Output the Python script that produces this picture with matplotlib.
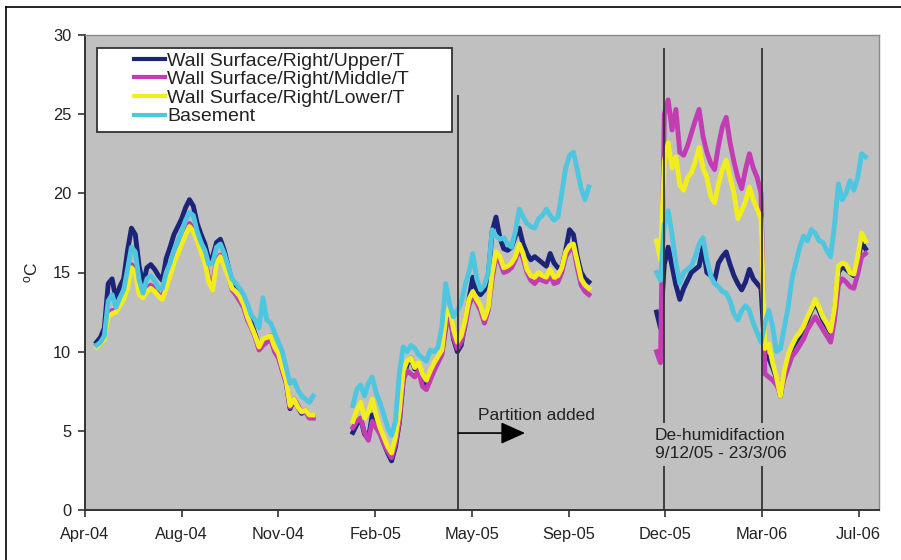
import numpy as np
import pandas as pd
import matplotlib
matplotlib.use('Agg')
import matplotlib.pyplot as plt
import matplotlib.dates as mdates
from matplotlib.patches import Rectangle
from matplotlib.lines import Line2D

plt.rcParams['font.family'] = ['Liberation Sans', 'DejaVu Sans']

labels = ['Wall Surface/Right/Upper/T', 'Wall Surface/Right/Middle/T',
          'Wall Surface/Right/Lower/T', 'Basement']
colors = ['#1b2478', '#c23cb4', '#f2ee1e', '#4fc6e0']

# three logging periods, one reading every 4 days
seg_starts = ['2004-05-06', '2005-01-26', '2005-12-06']

# period 1 (May-04 .. Dec-04)
upper_1 = [10.6, 10.9, 11.5, 14.3, 14.6, 13.3, 14.1, 14.6, 16.4, 17.8, 17.4, 15.4, 14.2, 15.3, 15.5,
           15.2, 14.8, 14.5, 15.9, 16.6, 17.4, 17.9, 18.4, 19.1, 19.6, 19.2, 18.1, 17.4, 16.8, 15.8,
           16.0, 16.9, 17.1, 16.4, 15.4, 14.4, 14.1, 13.7, 13.2, 12.4, 11.8, 11.1, 10.3, 10.6, 10.8,
           11.0, 10.2, 9.8, 8.9, 8.1, 6.4, 7.0, 6.5, 6.1, 6.3, 5.9, 5.9]
middle_1 = [10.4, 10.5, 10.9, 12.4, 12.6, 12.6, 13.0, 13.4, 14.2, 15.5, 15.2, 13.8, 13.5, 14.0, 14.2,
            14.0, 13.6, 13.5, 14.2, 15.0, 15.8, 16.4, 17.0, 17.6, 18.1, 17.8, 17.1, 16.4, 15.8, 14.6,
            14.2, 15.8, 16.1, 15.5, 14.9, 13.9, 13.6, 13.2, 12.8, 12.0, 11.5, 10.9, 10.1, 10.4, 10.6,
            10.8, 10.0, 9.6, 8.8, 8.0, 6.5, 7.0, 6.6, 6.2, 6.2, 5.8, 5.8]
lower_1 = [10.3, 10.5, 10.8, 12.2, 12.4, 12.5, 12.9, 13.3, 14.0, 15.3, 15.0, 13.6, 13.4, 13.8, 14.0,
           13.8, 13.5, 13.3, 14.0, 14.8, 15.6, 16.2, 16.8, 17.4, 17.9, 17.6, 17.0, 16.3, 15.6, 14.4,
           13.9, 15.6, 16.0, 15.4, 14.8, 14.0, 13.8, 13.5, 13.0, 12.2, 11.6, 11.0, 10.3, 10.8, 10.9,
           11.0, 10.3, 9.9, 9.0, 8.2, 6.6, 7.0, 6.5, 6.2, 6.3, 6.0, 6.0]
basement_1 = [10.4, 10.6, 11.0, 13.2, 13.6, 12.8, 13.4, 13.9, 15.2, 16.6, 16.3, 14.5, 13.7, 14.6, 14.8,
              14.5, 14.0, 14.0, 15.0, 15.6, 16.4, 17.0, 17.6, 18.3, 18.8, 18.6, 17.6, 16.9, 16.4, 15.5,
              15.6, 16.6, 16.8, 16.2, 15.4, 14.6, 14.3, 14.0, 13.6, 13.0, 12.3, 12.0, 11.5, 13.4, 12.0,
              11.8, 11.2, 10.6, 10.0, 9.0, 8.0, 8.2, 7.6, 7.2, 7.0, 6.8, 7.2]

# period 2 (Jan-05 .. Sep-05)
upper_2 = [4.9, 5.4, 5.8, 4.8, 4.5, 6.0, 5.5, 4.9, 4.2, 3.6, 3.1, 4.0, 5.5, 8.2, 9.2, 9.6, 8.9,
           9.0, 8.3, 7.9, 8.6, 9.2, 9.5, 10.0, 11.6, 12.6, 10.8, 10.0, 10.4, 11.8, 13.3, 14.7,
           13.9, 13.6, 13.9, 14.8, 17.6, 18.5, 17.2, 16.5, 16.4, 16.6, 17.3, 17.8, 16.8, 16.2,
           15.8, 16.0, 15.8, 15.6, 15.4, 16.2, 15.6, 15.3, 15.3, 16.4, 17.7, 17.4, 16.0, 15.0,
           14.6, 14.4]
middle_2 = [5.2, 5.6, 5.8, 4.9, 4.4, 5.6, 5.2, 4.8, 4.2, 3.7, 3.3, 4.2, 5.6, 8.2, 8.8, 8.6, 8.4,
            8.8, 7.8, 7.6, 8.2, 8.8, 9.3, 9.8, 11.5, 12.4, 10.9, 10.2, 10.6, 11.6, 12.9, 13.6,
            13.1, 12.6, 11.8, 12.6, 14.6, 16.0, 15.7, 15.0, 15.1, 15.3, 15.8, 16.5, 15.9, 15.0,
            14.5, 14.3, 14.6, 14.5, 14.4, 14.8, 14.3, 14.4, 15.0, 16.0, 16.4, 16.6, 15.3, 14.2,
            13.8, 13.6]
lower_2 = [5.6, 6.3, 6.8, 5.8, 6.2, 7.0, 6.0, 5.2, 4.6, 4.0, 3.6, 4.6, 6.2, 8.8, 9.4, 9.6, 9.0,
           9.3, 8.6, 8.2, 8.8, 9.3, 9.7, 10.1, 12.2, 12.8, 11.4, 10.6, 11.0, 12.0, 13.3, 13.8,
           13.3, 12.9, 12.1, 12.8, 15.0, 16.3, 16.0, 15.3, 15.4, 15.6, 16.0, 16.8, 16.2, 15.2,
           14.8, 14.7, 15.0, 14.8, 14.7, 15.2, 14.7, 14.8, 15.3, 16.3, 16.7, 16.8, 15.7, 14.6,
           14.2, 14.0]
basement_2 = [6.6, 7.6, 7.9, 7.2, 8.0, 8.4, 7.4, 6.8, 6.0, 5.2, 4.7, 5.6, 8.6, 10.3, 10.0, 10.4,
              10.2, 9.8, 9.6, 9.4, 10.1, 10.0, 10.3, 11.6, 14.3, 13.0, 12.2, 12.6, 13.1, 14.2, 15.0,
              16.2, 14.6, 13.9, 14.2, 15.0, 17.7, 17.3, 17.1, 17.2, 16.8, 16.6, 17.6, 19.0, 18.5,
              18.1, 17.9, 17.8, 18.4, 18.6, 19.0, 18.6, 18.3, 18.5, 20.0, 21.6, 22.4, 22.6, 21.5,
              20.3, 19.6, 20.4]

# period 3 (Dec-05 .. Jul-06)
upper_3 = [12.5, 11.5, 15.5, 16.6, 15.4, 14.2, 13.3, 14.0, 14.5, 15.0, 15.2, 15.4, 16.6, 15.0,
           14.8, 14.5, 15.6, 16.0, 16.3, 15.5, 14.8, 14.3, 13.9, 14.4, 15.2, 14.6, 14.3, 14.0,
           9.8, 9.6, 9.0, 8.3, 7.2, 8.6, 9.6, 10.2, 10.6, 11.0, 11.4, 12.0, 12.6, 13.1, 12.6,
           12.0, 11.6, 11.2, 12.6, 15.0, 15.4, 15.2, 15.0, 14.8, 15.8, 16.9, 16.5]
middle_3 = [10.0, 9.3, 25.0, 25.9, 24.0, 25.3, 22.6, 22.4, 23.0, 23.8, 24.6, 25.3, 23.6, 22.6,
            21.9, 21.5, 23.0, 24.2, 24.8, 23.2, 22.0, 21.0, 20.3, 21.5, 22.5, 21.6, 21.0, 20.0,
            8.6, 8.4, 8.2, 7.9, 7.4, 8.3, 9.0, 9.7, 10.0, 10.4, 10.8, 11.4, 11.8, 12.2, 11.8,
            11.4, 11.0, 10.6, 12.0, 14.2, 14.6, 14.4, 14.1, 14.0, 14.9, 16.0, 16.2]
lower_3 = [17.0, 15.8, 22.0, 23.2, 21.6, 22.3, 20.5, 20.2, 21.0, 21.3, 22.0, 22.9, 21.6, 21.0,
           19.8, 19.4, 20.6, 21.5, 22.1, 21.0, 20.0, 18.4, 18.9, 19.5, 20.4, 19.6, 19.0, 18.4,
           10.2, 10.5, 9.3, 8.4, 7.2, 8.8, 9.8, 10.4, 10.9, 11.2, 11.6, 12.2, 12.7, 13.3, 12.8,
           12.2, 11.8, 11.3, 12.8, 15.4, 15.6, 15.5, 15.0, 14.9, 16.0, 17.5, 17.0]
basement_3 = [15.0, 14.5, 18.0, 18.9, 17.4, 15.6, 14.3, 15.0, 15.2, 15.4, 16.0, 16.8, 17.2, 15.8,
              14.8, 14.3, 14.1, 13.8, 13.7, 13.2, 12.4, 12.0, 12.6, 12.9, 12.6, 11.8, 11.2, 10.6,
              11.8, 12.6, 11.6, 10.0, 10.2, 11.5, 12.8, 14.6, 15.6, 16.6, 17.3, 17.0, 17.7, 17.5,
              17.0, 16.9, 16.4, 16.0, 18.0, 20.6, 19.6, 20.0, 20.8, 20.2, 21.0, 22.5, 22.3]

periods = [
    [upper_1, middle_1, lower_1, basement_1],
    [upper_2, middle_2, lower_2, basement_2],
    [upper_3, middle_3, lower_3, basement_3],
]

axis_start = pd.Timestamp('2004-04-24')
partition_date = pd.Timestamp('2005-05-15')
dehum_dates = [pd.Timestamp('2005-12-14'), pd.Timestamp('2006-03-25')]

fig = plt.figure(figsize=(9.01, 5.6), dpi=100)
ax = fig.add_axes([85 / 901, 50 / 560, 794 / 901, 475 / 560])
ax.set_facecolor('#c0c0c0')

for start, series in zip(seg_starts, periods):
    for vals, col, lab in zip(series, colors, labels):
        dates = pd.date_range(start, periods=len(vals), freq='4D')
        ax.plot(dates, vals, color=col, lw=3.5, solid_joinstyle='round',
                label=lab if start == seg_starts[0] else None)

# event markers
ax.vlines(partition_date, 0, 26.2, color='#333333', lw=1.3, zorder=6)
ax.vlines(dehum_dates, 0, 29.2, color='#333333', lw=1.3, zorder=6)
ax.annotate('', xy=(pd.Timestamp('2005-07-23'), 4.86), xytext=(partition_date, 4.86),
            arrowprops=dict(arrowstyle='-|>,head_length=1.0,head_width=0.45',
                            mutation_scale=15, color='black', lw=1.2,
                            shrinkA=0, shrinkB=0), zorder=7)
ax.text(pd.Timestamp('2005-06-04'), 6.0, 'Partition added', fontsize=12.5,
        color='#222222', ha='left', va='center', zorder=7)
ax.text(pd.Timestamp('2005-12-04'), 4.15, 'De-humidifaction\n9/12/05 - 23/3/06',
        fontsize=12.5, color='#222222', ha='left', va='center', linespacing=1.25,
        zorder=8, bbox=dict(boxstyle='square,pad=0.3', facecolor='#c0c0c0', edgecolor='none'))

ax.set_ylim(0, 30)
ax.set_yticks(np.arange(0, 31, 5))
ax.set_xlim(axis_start, axis_start + pd.Timedelta(days=821))
ax.set_xticks([axis_start + pd.Timedelta(days=100 * k) for k in range(9)])
ax.xaxis.set_major_formatter(mdates.DateFormatter('%b-%y'))
ax.tick_params(axis='both', direction='out', length=5, width=1.2, color='#333333',
               labelsize=11.8, labelcolor='#222222')
ax.tick_params(axis='x', pad=7)
ax.tick_params(axis='y', pad=5)
for side in ['left', 'bottom']:
    ax.spines[side].set_color('#333333')
    ax.spines[side].set_linewidth(1.4)
for side in ['top', 'right']:
    ax.spines[side].set_color('#8a8a8a')
    ax.spines[side].set_linewidth(1.0)

ax.set_ylabel(r'$\mathregular{^{o}}$C', fontsize=12.5, color='#222222', labelpad=9)

# legend box
ax.add_patch(Rectangle((12 / 794, (510 - 132) / 475), 355 / 794, 84 / 475,
                       transform=ax.transAxes, facecolor='white', edgecolor='#333333',
                       lw=1.3, zorder=9))
leg = ax.legend(loc='upper left', bbox_to_anchor=(49 / 794, (510 - 52) / 475),
                frameon=False, fontsize=14, borderpad=0, borderaxespad=0,
                handlelength=1.6, handletextpad=0.1, labelspacing=0.05)
leg.set_zorder(10)
for h in leg.get_lines():
    h.set_linewidth(3)
for t in leg.get_texts():
    t.set_color('#222222')

# outer frame of the picture
fig.add_artist(Line2D([6 / 901, 6 / 901], [0, 1 - 7 / 560], color='black', lw=1.2))
fig.add_artist(Line2D([6 / 901, 1], [1 - 7 / 560, 1 - 7 / 560], color='black', lw=1.2))

fig.savefig('out.png', dpi=100, facecolor='white')
